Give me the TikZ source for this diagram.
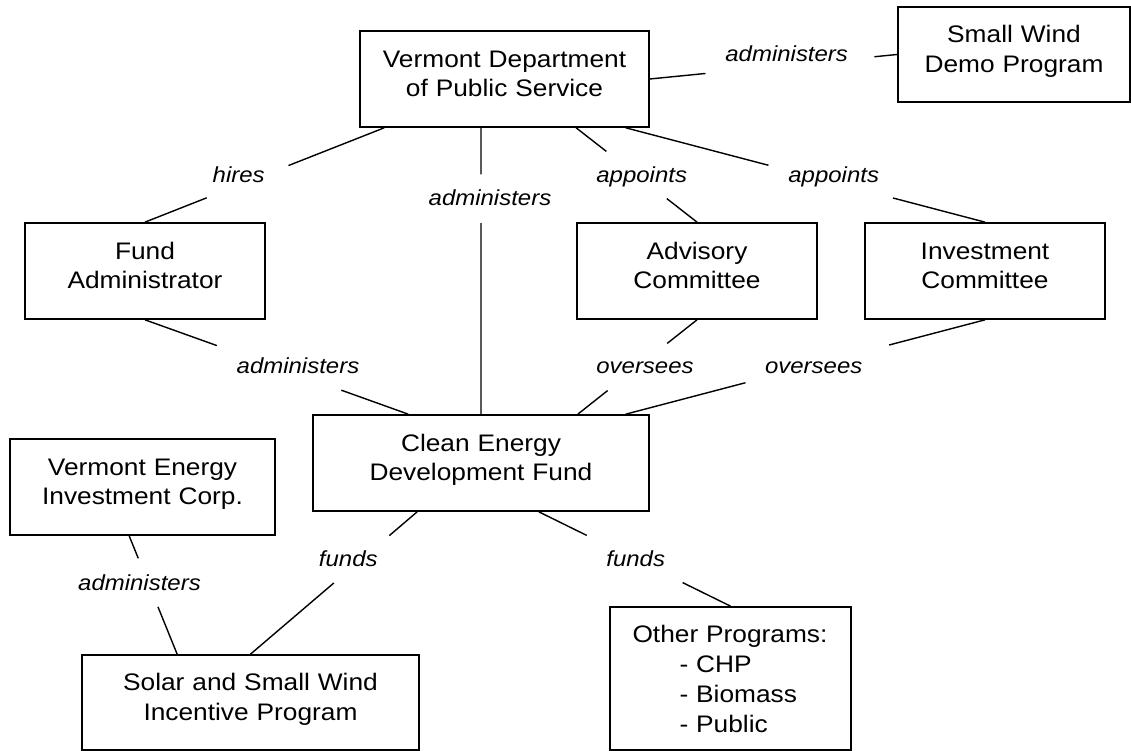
\documentclass[tikz,border=0pt]{standalone}
\usepackage{fontspec}
\setmainfont{Liberation Sans}[FakeStretch=1.1]
\usetikzlibrary{calc}

\begin{document}
\begin{tikzpicture}[
  box/.style={draw, line width=1.2pt, inner sep=0pt, align=center, minimum height=2.4cm,
    text height=13pt, text depth=30pt, font=\fontsize{17pt}{21.3pt}\selectfont},
  rel/.style={anchor=base, inner sep=0pt, font=\itshape\fontsize{15.5pt}{18pt}\selectfont},
  link/.style={line width=1pt}
]
\useasboundingbox (0,0) rectangle (28.275,18.775);

\node[box, text width=7.225cm] (dps) at (12.6125,16.8) {Vermont Department\\of Public Service};
\node[box, text width=5.8cm, minimum height=2.375cm] (swd) at (25.35,17.4125) {Small Wind\\Demo Program};

\node[box, text width=6cm] (fa) at (3.625,12.0) {Fund\\Administrator};
\node[box, text width=6cm] (ac) at (17.425,12.0) {Advisory\\Committee};
\node[box, text width=6cm] (ic) at (24.625,12.0) {Investment\\Committee};

\node[box, text width=8.4cm] (cedf) at (12.025,7.2) {Clean Energy\\Development Fund};
\node[box, text width=6.625cm] (veic) at (3.5625,6.6) {Vermont Energy\\Investment Corp.};

\node[box, text width=8.425cm, minimum height=2.375cm] (solar) at (6.2625,1.2125) {Solar and Small Wind\\Incentive Program};
\node[box, align=left, text width=4.9cm, minimum width=6.025cm, minimum height=3.575cm, text depth=64pt] (other) at (18.2625,1.8125)
  {Other Programs:\\\hspace*{1.175cm}- CHP\\\hspace*{1.175cm}- Biomass\\\hspace*{1.175cm}- Public};

\coordinate (dpsfa) at ([xshift=0.625cm]dps.south west);
\coordinate (dpscedf) at (dps.south -| cedf.north);
\coordinate (dpsac) at ([xshift=5.425cm]dps.south west);
\coordinate (dpsic) at ([xshift=-0.6cm]dps.south east);
\coordinate (cedffa) at ([xshift=2.4cm]cedf.north west);
\coordinate (cedfac) at ([xshift=-1.8cm]cedf.north east);
\coordinate (cedfic) at ([xshift=-0.6cm]cedf.north east);
\coordinate (veicsol) at ([xshift=3cm]veic.south west);
\coordinate (solveic) at ([xshift=2.4cm]solar.north west);
\coordinate (cedfsol) at ([xshift=2.625cm]cedf.south west);
\coordinate (cedfoth) at ([xshift=-2.775cm]cedf.south east);

\draw[link] (dps.east) -- ($(dps.east)!0.225!(swd.west)$) ($(dps.east)!0.908!(swd.west)$) -- (swd.west);
\node[rel] (r1) at (19.667,17.225) {administers};

\draw[link] (dpsfa) -- ($(dpsfa)!0.4!(fa.north)$) ($(dpsfa)!0.742!(fa.north)$) -- (fa.north);
\node[rel] (r2) at (5.9675,14.2075) {hires};

\draw[link] (dpscedf) -- ($(dpscedf)!0.163!(cedf.north)$) ($(dpscedf)!0.333!(cedf.north)$) -- (cedf.north);
\node[rel] (r3) at (12.25,13.625) {administers};

\draw[link] (dpsac) -- ($(dpsac)!0.25!(ac.north)$) ($(dpsac)!0.75!(ac.north)$) -- (ac.north);
\node[rel] (r4) at (16.0425,14.2075) {appoints};

\draw[link] (dpsic) -- ($(dpsic)!0.397!(ic.north)$) ($(dpsic)!0.744!(ic.north)$) -- (ic.north);
\node[rel] (r5) at (20.8425,14.2075) {appoints};

\draw[link] (fa.south) -- ($(fa.south)!0.273!(cedffa)$) ($(fa.south)!0.746!(cedffa)$) -- (cedffa);
\node[rel] (r6) at (7.45,9.425) {administers};

\draw[link] (ac.south) -- ($(ac.south)!0.25!(cedfac)$) ($(ac.south)!0.75!(cedfac)$) -- (cedfac);
\node[rel] (r7) at (16.125,9.425) {oversees};

\draw[link] (ic.south) -- ($(ic.south)!0.267!(cedfic)$) ($(ic.south)!0.667!(cedfic)$) -- (cedfic);
\node[rel] (r8) at (20.3425,9.425) {oversees};

\draw[link] (veicsol) -- ($(veicsol)!0.19!(solveic)$) ($(veicsol)!0.6!(solveic)$) -- (solveic);
\node[rel] (r9) at (3.4875,4.0075) {administers};

\draw[link] (cedfsol) -- ($(cedfsol)!0.167!(solar.north)$) ($(cedfsol)!0.5!(solar.north)$) -- (solar.north);
\node[rel] (r10) at (8.7075,4.6075) {funds};

\draw[link] (cedfoth) -- ($(cedfoth)!0.25!(other.north)$) ($(cedfoth)!0.75!(other.north)$) -- (other.north);
\node[rel] (r11) at (15.8925,4.6075) {funds};

\end{tikzpicture}
\end{document}
